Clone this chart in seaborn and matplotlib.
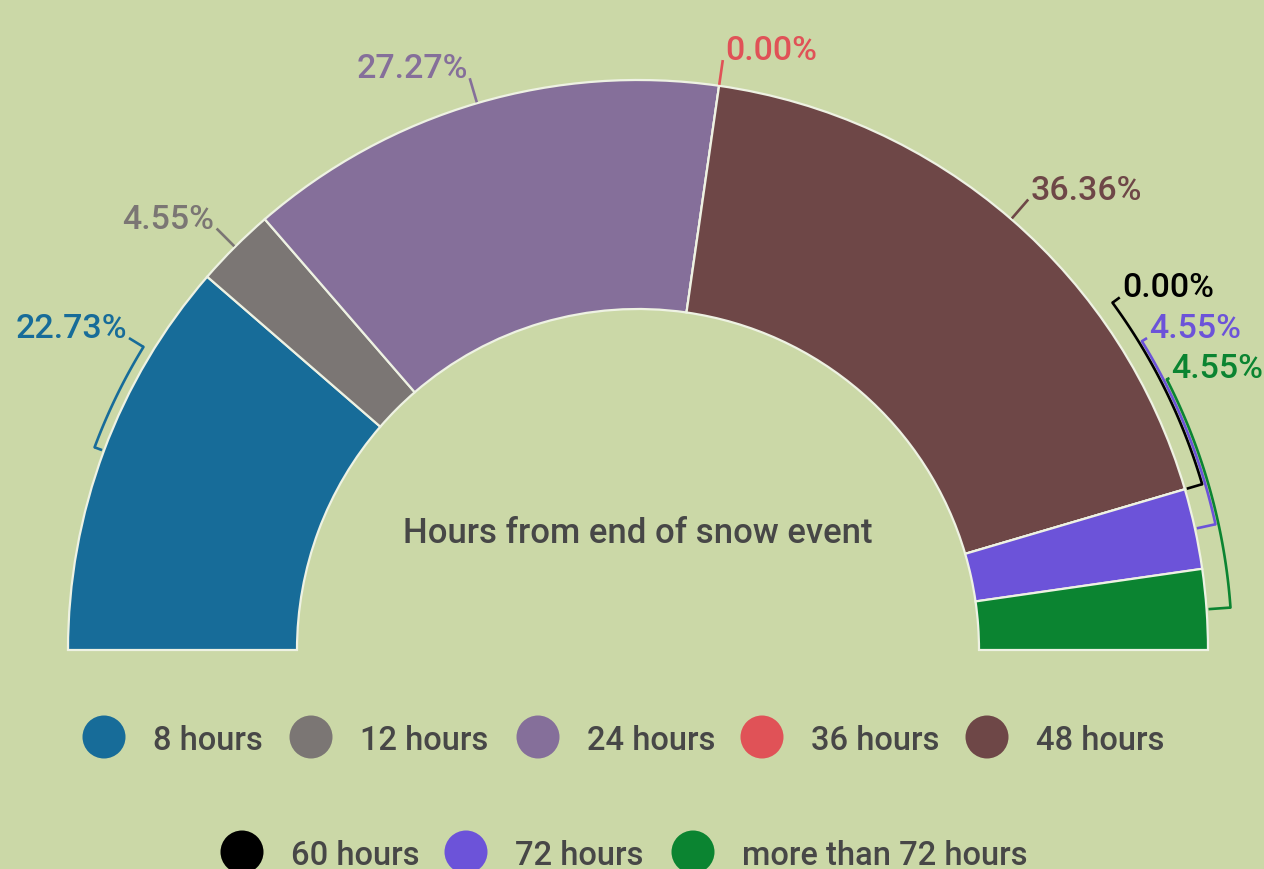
import numpy as np
import matplotlib
matplotlib.use('Agg')
import matplotlib.pyplot as plt
import seaborn as sns
from matplotlib.patches import Circle

# ---- data ----
categories = ['8 hours', '12 hours', '24 hours', '36 hours', '48 hours',
              '60 hours', '72 hours', 'more than 72 hours']
values = [22.73, 4.55, 27.27, 0.00, 36.36, 0.00, 4.55, 4.55]
pct_labels = ['22.73%', '4.55%', '27.27%', '0.00%', '36.36%', '0.00%', '4.55%', '4.55%']
colors = ['#176c99', '#7b7674', '#856f9a', '#e05257', '#6e4747',
          '#000000', '#6c53d9', '#0b8431']
center_title = 'Hours from end of snow event'

# ---- label layout (style, label angle or None=slice middle, bracket radius) ----
label_style = ['bracket', 'line', 'line', 'line', 'line', 'bracket', 'bracket', 'bracket']
label_angle = [148.5, None, 106.4, None, None, 36.2, 31.5, 27.1]
bracket_r = [580, None, None, None, None, 588, 591, 594]

sns.set_theme(style='white')
plt.rcParams['font.family'] = ['Roboto', 'DejaVu Sans']

BG = '#cbd8a7'
TXT = '#474747'
fig = plt.figure(figsize=(12.64, 8.70), dpi=100, facecolor=BG)
ax = fig.add_axes([0, 0, 1, 1])
ax.set_facecolor(BG)

CX, CY = 638, 219
R_OUT, R_IN = 570, 341
total = sum(values)

wedges, _ = ax.pie(values + [total], colors=colors + ['none'], startangle=180,
                   counterclock=False, radius=R_OUT, center=(CX, CY),
                   wedgeprops=dict(width=R_OUT - R_IN, edgecolor='#eef2e3', linewidth=1.6))
wedges[-1].set_edgecolor('none')
wedges[-1].set_facecolor('none')

ax.set_xlim(0, 1264)
ax.set_ylim(0, 870)
ax.set_aspect('equal')
ax.axis('off')


def pt(r, a):
    t = np.deg2rad(a)
    return CX + r * np.cos(t), CY + r * np.sin(t)


bounds = 180 - np.concatenate([[0], np.cumsum(values)]) / total * 180
mids = (bounds[:-1] + bounds[1:]) / 2

LW = 1.9
for i, (lab, col) in enumerate(zip(pct_labels, colors)):
    mid = mids[i]
    la = label_angle[i] if label_angle[i] is not None else mid
    if label_style[i] == 'bracket':
        rb = bracket_r[i]
        a0, a1 = pt(572, mid), pt(rb, mid)
        ax.plot([a0[0], a1[0]], [a0[1], a1[1]], color=col, lw=LW, solid_capstyle='butt')
        ang = np.linspace(mid, la, 60)
        xs, ys = pt(rb, ang)
        ax.plot(xs, ys, color=col, lw=LW)
        b0, b1 = pt(rb, la), pt(597, la)
        ax.plot([b0[0], b1[0]], [b0[1], b1[1]], color=col, lw=LW, solid_capstyle='butt')
        end = b1
    else:
        a0, a1 = pt(571, la), pt(596, la)
        ax.plot([a0[0], a1[0]], [a0[1], a1[1]], color=col, lw=LW, solid_capstyle='butt')
        end = a1
    right = np.cos(np.deg2rad(la)) > 0
    ax.text(end[0] + (2 if right else -2), end[1] + 1, lab, color=col,
            ha='left' if right else 'right', va='baseline', fontsize=24.4,
            fontweight='medium')

ax.text(CX, 870 - 543, center_title, ha='center', va='baseline', color=TXT,
        fontsize=25.0, fontweight='medium')

# ---- legend ----
legend_x = [104, 311, 538, 762, 987, 242, 466, 693]
legend_y = [738, 738, 738, 738, 738, 853, 853, 853]
for cat, col, lx, ly in zip(categories, colors, legend_x, legend_y):
    ax.add_patch(Circle((lx, 870 - ly), 21.5, facecolor=col, edgecolor='none'))
    ax.text(lx + 49, 870 - ly - 12, cat, ha='left', va='baseline', color=TXT,
            fontsize=23.5, fontweight='medium')

fig.savefig('out.png', dpi=100, facecolor=BG)
